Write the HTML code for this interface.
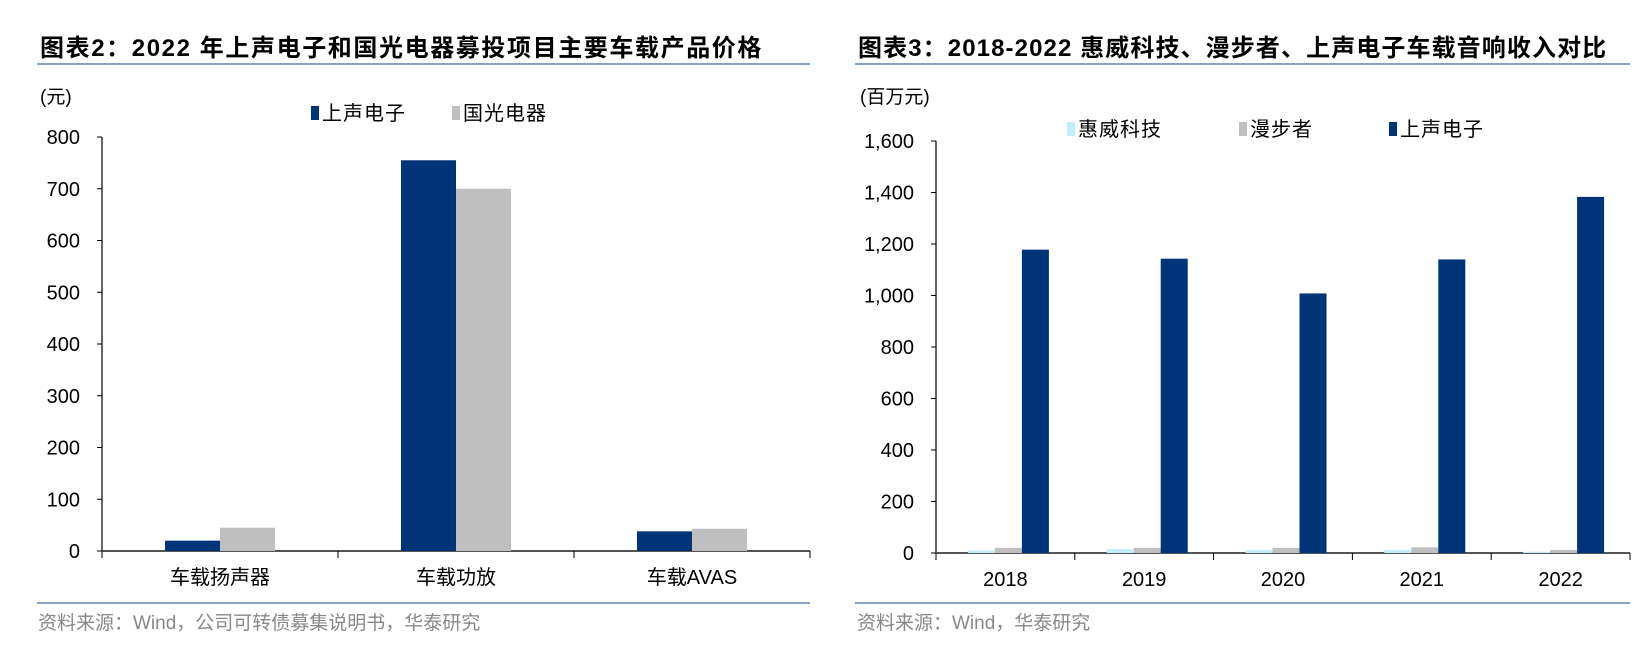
<!DOCTYPE html>
<html><head><meta charset="utf-8"><style>
body{margin:0;background:#fff;width:1649px;height:643px;overflow:hidden;font-family:"Liberation Sans","Noto Sans CJK SC",sans-serif;}
svg text{font-family:"Liberation Sans","Noto Sans CJK SC",sans-serif;}
</style></head><body>
<svg id="s" width="1649" height="643" xmlns="http://www.w3.org/2000/svg">
<text x="40" y="56" font-size="24" font-weight="bold" letter-spacing="1.6" fill="#000">图表2：2022 年上声电子和国光电器募投项目主要车载产品价格</text>
<rect x="37" y="63" width="773" height="2" fill="#8aa0c0"/>
<text x="40" y="103" font-size="19">(元)</text>
<text x="858" y="56" font-size="24" font-weight="bold" letter-spacing="1.1" fill="#000">图表3：2018-2022 惠威科技、漫步者、上声电子车载音响收入对比</text>
<rect x="855" y="63" width="775" height="2" fill="#8aa0c0"/>
<text x="860" y="103" font-size="19">(百万元)</text>
<rect x="37" y="602" width="773" height="2" fill="#8aa0c0"/>
<text x="38" y="629" font-size="19" fill="#888">资料来源：Wind，公司可转债募集说明书，华泰研究</text>
<rect x="855" y="602" width="775" height="2" fill="#8aa0c0"/>
<text x="857" y="629" font-size="19" fill="#888">资料来源：Wind，华泰研究</text>
<g id="L"></g><g id="R"></g>
</svg>
<script>
const lCats=["车载扬声器","车载功放","车载AVAS"];
const lSeriesNames=["上声电子","国光电器"];
const lSSDZ=[20,755,38];
const lGGDQ=[45,700,43];
const lTicks=[0,100,200,300,400,500,600,700,800];
const rCats=["2018","2019","2020","2021","2022"];
const rSeriesNames=["惠威科技","漫步者","上声电子"];
const rHWKJ=[10,15,12,12,5];
const rMBZ=[20,20,20,22,12];
const rSSDZ=[1178,1143,1008,1140,1383];
const rTicks=[0,200,400,600,800,1000,1200,1400,1600];
const NS="http://www.w3.org/2000/svg";
function mk(p,t,a){const e=document.createElementNS(NS,t);for(const k in a)e.setAttribute(k,a[k]);p.appendChild(e);return e;}
function chart(g,o){
  const y=v=>o.y0-(v-o.min)/(o.max-o.min)*(o.y0-o.y1);
  const cw=(o.x1-o.x0)/o.cats.length;
  const x=i=>o.x0+cw*i;
  let ax=mk(g,'line',{x1:o.x0,x2:o.x0,y1:o.y1,y2:o.y0,stroke:'#000','stroke-width':1.2});
  
  
  o.ticks.forEach(t=>{
    let l=mk(g,'line',{x1:o.x0-5,x2:o.x0,y1:y(t),y2:y(t),stroke:'#000'});
    
    
    let tx=mk(g,'text',{x:o.x0-22,y:y(t)+7,'font-size':20,'text-anchor':'end'});
    tx.textContent=o.fmt(t);
    
    
  });
  let xa=mk(g,'line',{x1:o.x0,x2:o.x1,y1:o.y0,y2:o.y0,stroke:'#555','stroke-width':2});
  
  
  for(let i=0;i<=o.cats.length;i++){
    let l=mk(g,'line',{x1:x(i),x2:x(i),y1:o.y0,y2:o.y0+7,stroke:'#000'});
    
    
  }
  const n=o.series.length, gw=o.bw*n;
  o.cats.forEach((c,i)=>{
    const cx=x(i)+cw/2;
    o.series.forEach((s,j)=>{
      const v=s[i];
      let r=mk(g,'rect',{x:cx-gw/2+j*o.bw+o.off,y:y(v),width:o.bw,height:o.y0-y(v),fill:o.colors[j]});
      
      
    });
    let t=mk(g,'text',{x:cx,y:o.y0+33,'font-size':20,'text-anchor':'middle'});
    t.textContent=c;
    
    
  });
  o.names.forEach((nm,j)=>{
    let r=mk(g,'rect',{x:o.legX[j],y:o.legY-13,width:8,height:14,fill:o.colors[j]});
    
    
    let t=mk(g,'text',{x:o.legX[j]+11,y:o.legY+1,'font-size':20,'letter-spacing':1});
    t.textContent=nm;
    
    
  });
}
chart(document.getElementById('L'),{x0:102,x1:810,y0:551,y1:137,min:0,max:800,cats:lCats,series:[lSSDZ,lGGDQ],names:lSeriesNames,colors:['#003478','#bfbfbf'],bw:55,off:0,ticks:lTicks,fmt:v=>String(v),legX:[311,452],legY:119});
chart(document.getElementById('R'),{x0:936,x1:1630,y0:553,y1:141,min:0,max:1600,cats:rCats,series:[rHWKJ,rMBZ,rSSDZ],names:rSeriesNames,colors:['#c5ecfa','#bfbfbf','#003478'],bw:27,off:3,ticks:rTicks,fmt:v=>v.toLocaleString('en-US'),legX:[1067,1239,1389],legY:135});
</script>
</body></html>
